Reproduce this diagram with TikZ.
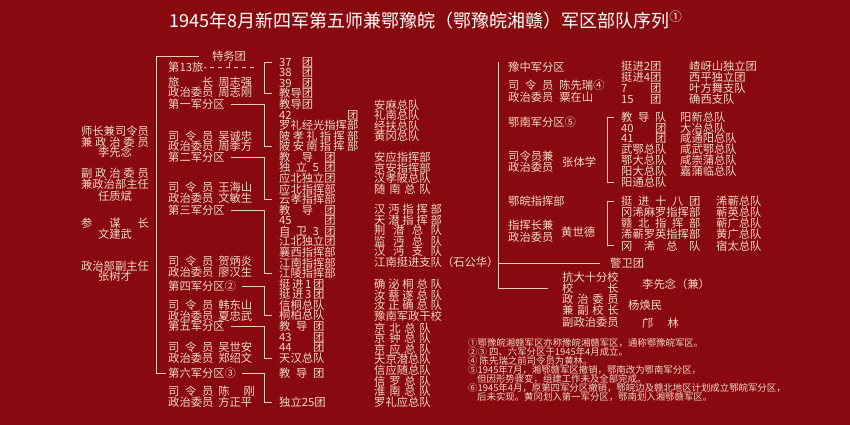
\documentclass[tikz,border=0pt]{standalone}
\usepackage{fontspec}
\setmainfont{Noto Sans CJK SC}
\usetikzlibrary{positioning,calc}
\definecolor{ground}{HTML}{880A0E}
\definecolor{ink}{HTML}{F3D8C6}
\definecolor{rule}{HTML}{EBCDB8}
\newcommand{\dist}[2]{\makebox[#1em][s]{#2}}
\newcommand{\sly}{\dist{4}{司\hfill 令\hfill 员}}

\begin{document}
\begin{tikzpicture}[x=1pt,y=-1pt,
  t/.style={anchor=west,inner sep=0pt,text=ink,font=\fontsize{11.3}{11.3}\selectfont,
            text height=9.9pt,text depth=1.4pt},
  tc/.style={t,anchor=center},
  note/.style={t,font=\fontsize{9.4}{9.4}\selectfont,text height=8.3pt,text depth=1.1pt},
  w/.style={draw=rule,line width=0.8pt},
  wd/.style={w,dash pattern=on 4pt off 4pt}]

  \fill[ground] (0,0) rectangle (850,425);
  \useasboundingbox (0,0) rectangle (850,425);

  \node[inner sep=0pt,text=white,font=\fontsize{18}{18}\selectfont] (title) at (426,20)
    {1945年8月新四军第五师兼鄂豫皖（鄂豫皖湘赣）军区部队序列\textsuperscript{①}};

  % command
  \node[tc] (cmd1) at (115,131) {师长兼司令员};
  \node[tc] (cmd2) at (115,142) {\dist{6}{兼\hfill 政\hfill 治\hfill 委\hfill 员}};
  \node[tc] (cmd3) at (115,152) {李先念};
  \node[tc] (cmd4) at (115,173) {\dist{6}{副\hfill 政\hfill 治\hfill 委\hfill 员}};
  \node[tc] (cmd5) at (115,184) {兼政治部主任};
  \node[tc] (cmd6) at (115,196) {任质斌};
  \node[tc] (cmd7) at (115,223) {\dist{6}{参\hfill 谋\hfill 长}};
  \node[tc] (cmd8) at (115,234) {文建武};
  \node[tc] (cmd9) at (115,266) {政治部副主任};
  \node[tc] (cmd10) at (115,276) {张树才};

  % brigade and sub-districts
  \node[tc] (tw) at (229,56) {特务团};
  \node[t] (b13) at (168,67) {第13旅-};
  \coordinate (b13e) at (254,67);
  \node[t] (b13a) at (168,82) {\dist{4}{旅\hfill 长}\hspace{5pt}周志强};
  \node[t] (b13b) at (168,92.5) {政治委员\hspace{5pt}周志刚};
  \node[t] (k1) at (168,104.3) {第一军分区};
  \node[t] (k1a) at (168,136) {\sly\hspace{5pt}吴诚忠};
  \node[t] (k1b) at (168,146.5) {政治委员\hspace{5pt}周季方};
  \node[t] (k2) at (168,157.1) {第二军分区};
  \node[t] (k2a) at (168,187.5) {\sly\hspace{5pt}王海山};
  \node[t] (k2b) at (168,198) {政治委员\hspace{5pt}文敏生};
  \node[t] (k3) at (168,210) {第三军分区};
  \node[t] (k3a) at (168,261) {\sly\hspace{5pt}贺炳炎};
  \node[t] (k3b) at (168,272) {政治委员\hspace{5pt}廖汉生};
  \node[t] (k4) at (168,286) {第四军分区②};
  \node[t] (k4a) at (168,305) {\sly\hspace{5pt}韩东山};
  \node[t] (k4b) at (168,316) {政治委员\hspace{5pt}夏忠武};
  \node[t] (k5) at (168,326.5) {第五军分区};
  \node[t] (k5a) at (168,347) {\sly\hspace{5pt}吴世安};
  \node[t] (k5b) at (168,358) {政治委员\hspace{5pt}郑绍文};
  \node[t] (k6) at (168,373) {第六军分区③};
  \node[t] (k6a) at (168,391) {\sly\hspace{5pt}陈\hspace{14pt}刚};
  \node[t] (k6b) at (168,402) {政治委员\hspace{5pt}方正平};

  % units
  \foreach \t [count=\i from 0] in {{\dist{3}{37\hfill 团}},{\dist{3}{38\hfill 团}},
      {\dist{3}{39\hfill 团}},教导团,教导团,{\dist{7}{42\hfill 团}},罗礼经光指挥部,
      {\dist{7}{陂\hfill 孝\hfill 礼\hfill 指\hfill 挥\hfill 部}},
      {\dist{7}{陂\hfill 安\hfill 南\hfill 指\hfill 挥\hfill 部}},
      {\dist{5}{教\hfill 导\hfill 团}},{\dist{5}{独\hfill 立\hfill 5\hfill 团}},
      应北独立团,应北指挥部,云孝指挥部,{\dist{5}{教\hfill 导\hfill 团}},
      {\dist{5}{45\hfill 团}},{\dist{5}{自\hfill 卫\hfill 3\hfill 团}},
      江北独立团,襄西指挥部,江南指挥部,江陵指挥部,
      {\dist{4}{挺\hfill 进\hfill 1\hfill 团}},{\dist{4}{挺\hfill 进\hfill 3\hfill 团}},
      信桐总队,桐柏总队,{\dist{4}{教\hfill 导\hfill 团}},{\dist{4}{43\hfill 团}},
      {\dist{4}{44\hfill 团}},天汉总队}
    \node[t] (c\i) at (279,62+10.57*\i) {\t};
  \node[t] (c29) at (279,373) {\dist{4}{教\hfill 导\hfill 团}};
  \node[t] (c30) at (279,402) {独立25团};

  \foreach \y/\t [count=\i] in {105/安麻总队,115.5/礼南总队,126/经扶总队,136.5/黄冈总队,
      157.5/安应指挥部,168/京安指挥部,178.5/汉孝陂总队,
      189/{\dist{5}{随\hfill 南\hfill 总\hfill 队}},
      209.5/{\dist{6}{汉\hfill 沔\hfill 指\hfill 挥\hfill 部}},
      220/{\dist{6}{天\hfill 潜\hfill 指\hfill 挥\hfill 部}},
      230.5/{\dist{6}{荆\hfill 潜\hfill 总\hfill 队}},
      241/{\dist{6}{监\hfill 沔\hfill 总\hfill 队}},
      251.5/{\dist{6}{汉\hfill 沔\hfill 支\hfill 队}},
      262/江南挺进支队（石公华）,
      284.5/{\dist{6}{确\hfill 泌\hfill 桐\hfill 总\hfill 队}},
      295/{\dist{6}{汝\hfill 蔡\hfill 遂\hfill 总\hfill 队}},
      305.5/{\dist{6}{汝\hfill 正\hfill 确\hfill 总\hfill 队}},
      316.5/豫南军政干校,
      328/{\dist{5}{京\hfill 北\hfill 总\hfill 队}},
      338.5/{\dist{5}{京\hfill 钟\hfill 总\hfill 队}},
      349/{\dist{5}{京\hfill 应\hfill 总\hfill 队}},
      359.5/天京潜总队,370.5/信应随总队,
      381/{\dist{5}{信\hfill 罗\hfill 总\hfill 队}},
      391.5/{\dist{5}{淮\hfill 南\hfill 总\hfill 队}},
      402/罗礼应总队}
    \node[t] (d\i) at (374,\y) {\t};

  % right-hand districts
  \coordinate (rtop) at (498,62);
  \node[t] (e0) at (508,67) {豫中军分区};
  \node[t] (e1) at (508,85) {\sly\hspace{6pt}陈先瑞④};
  \node[t] (e2) at (508,97) {政治委员\hspace{6pt}粟在山};
  \foreach \y/\a/\b [count=\i] in {66.5/挺进2团/嵖岈山独立团,77.5/挺进4团/西平独立团,
      88/{\dist{3.55}{7\hfill 团}}/叶方舞支队,99/{\dist{3.55}{15\hfill 团}}/确西支队}{
    \node[t] (f\i) at (621,\y) {\a};
    \node[t] (g\i) at (689,\y) {\b};
  }

  \node[t] (e3) at (508,122) {鄂南军分区⑤};
  \node[t] (e4) at (508,156) {司令员兼};
  \node[t] (e5) at (508,167) {政治委员};
  \node[t] (zt) at (562,162) {张体学};
  \foreach \t [count=\i from 0] in {{\dist{4}{教\hfill 导\hfill 队}},{\dist{4}{40\hfill 团}},
      {\dist{4}{41\hfill 团}},武鄂总队,鄂大总队,阳大总队,阳通总队}
    \node[t] (h\i) at (621,117+10.83*\i) {\t};
  \foreach \t [count=\i from 0] in {阳新总队,大冶总队,咸通阳总队,咸武鄂总队,咸崇蒲总队,嘉蒲临总队}
    \node[t] (i\i) at (680,117+10.83*\i) {\t};

  \node[t] (e6) at (508,201) {鄂皖指挥部};
  \node[t] (e7) at (508,225) {指挥长兼};
  \node[t] (e8) at (508,237) {政治委员};
  \node[t] (hs) at (561,232) {黄世德};
  \foreach \t [count=\i from 0] in {{\dist{7}{挺\hfill 进\hfill 十\hfill 八\hfill 团}},冈浠麻罗指挥部,
      {\dist{7}{赣\hfill 北\hfill 指\hfill 挥\hfill 部}},浠蕲罗英指挥部,
      {\dist{7}{冈\hfill 浠\hfill 总\hfill 队}}}
    \node[t] (j\i) at (621,201+11.2*\i) {\t};
  \foreach \t [count=\i from 0] in {浠蕲总队,蕲英总队,蕲广总队,黄广总队,宿太总队}
    \node[t] (k\i r) at (716,201+11.2*\i) {\t};

  \node[t] (jw) at (610,263) {警卫团};
  \foreach \t [count=\i from 0] in {抗大十分校,{\dist{5}{校\hfill 长}},
      {\dist{5}{政\hfill 治\hfill 委\hfill 员}},{\dist{5}{兼\hfill 副\hfill 校\hfill 长}},副政治委员}
    \node[t] (m\i) at (562,277+11.2*\i) {\t};
  \node[t] (ld1) at (642,284) {李先念（兼）};
  \node[t] (ld2) at (628,305) {杨焕民};
  \node[t] (ld3) at (642,323) {邝\hspace{14pt}林};

  % notes
  \node[note] (n1) at (468,343) {①鄂豫皖湘赣军区亦称豫皖湘赣军区，通称鄂豫皖军区。};
  \node[note] (n2) at (468,352) {②③ 四、六军分区于1945年4月成立。};
  \node[note] (n3) at (468,361) {④ 陈先瑞之前司令员为黄林。};
  \node[note] (n4) at (468,370) {⑤1945年7月，湘鄂赣军区撤销，鄂南改为鄂南军分区，};
  \node[note] (n5) at (477,379) {但因形势骤变，组建工作未及全部完成。};
  \node[note] (n6) at (468,388) {⑥1945年4月，原第四军分区撤销，鄂皖边及赣北地区计划成立鄂皖军分区，};
  \node[note] (n7) at (477,397) {后未实现。黄冈划入第一军分区，鄂南划入湘鄂赣军区。};

  % lines
  \draw[w] ([xshift=-13pt]tw.west) -| ([xshift=-12pt]k6.west) -- ([xshift=-2pt]k6.west);
  \draw[w] (tw.south) -- (tw.south |- b13.east);
  \draw[wd] ([xshift=3pt]b13.east) -- (b13e);
  \draw[w] ([xshift=-7pt]c0.west) -- ++(-8,0) |- ([xshift=-7pt]c3.west);
  \foreach \k/\c in {k1/c8,k2/c13,k3/c20,k4/c24,k5/c28,k6/c30}
    \draw[w] ([xshift=6pt]\k.east) -| ([xshift=-15pt]\c.west) -- ([xshift=-7pt]\c.west);

  \draw[w] (rtop) |- ([xshift=-14pt]m1.west);
  \draw[w] (rtop |- jw.west) -- ([xshift=-10pt]jw.west);
  \draw[w] ([xshift=-7pt]h0.west) -- ++(-7,0) |- ([xshift=-7pt]h6.west);
  \draw[w] ([xshift=-7pt]j0.west) -- ++(-7,0) |- ([xshift=-7pt]j4.west);
\end{tikzpicture}
\end{document}
